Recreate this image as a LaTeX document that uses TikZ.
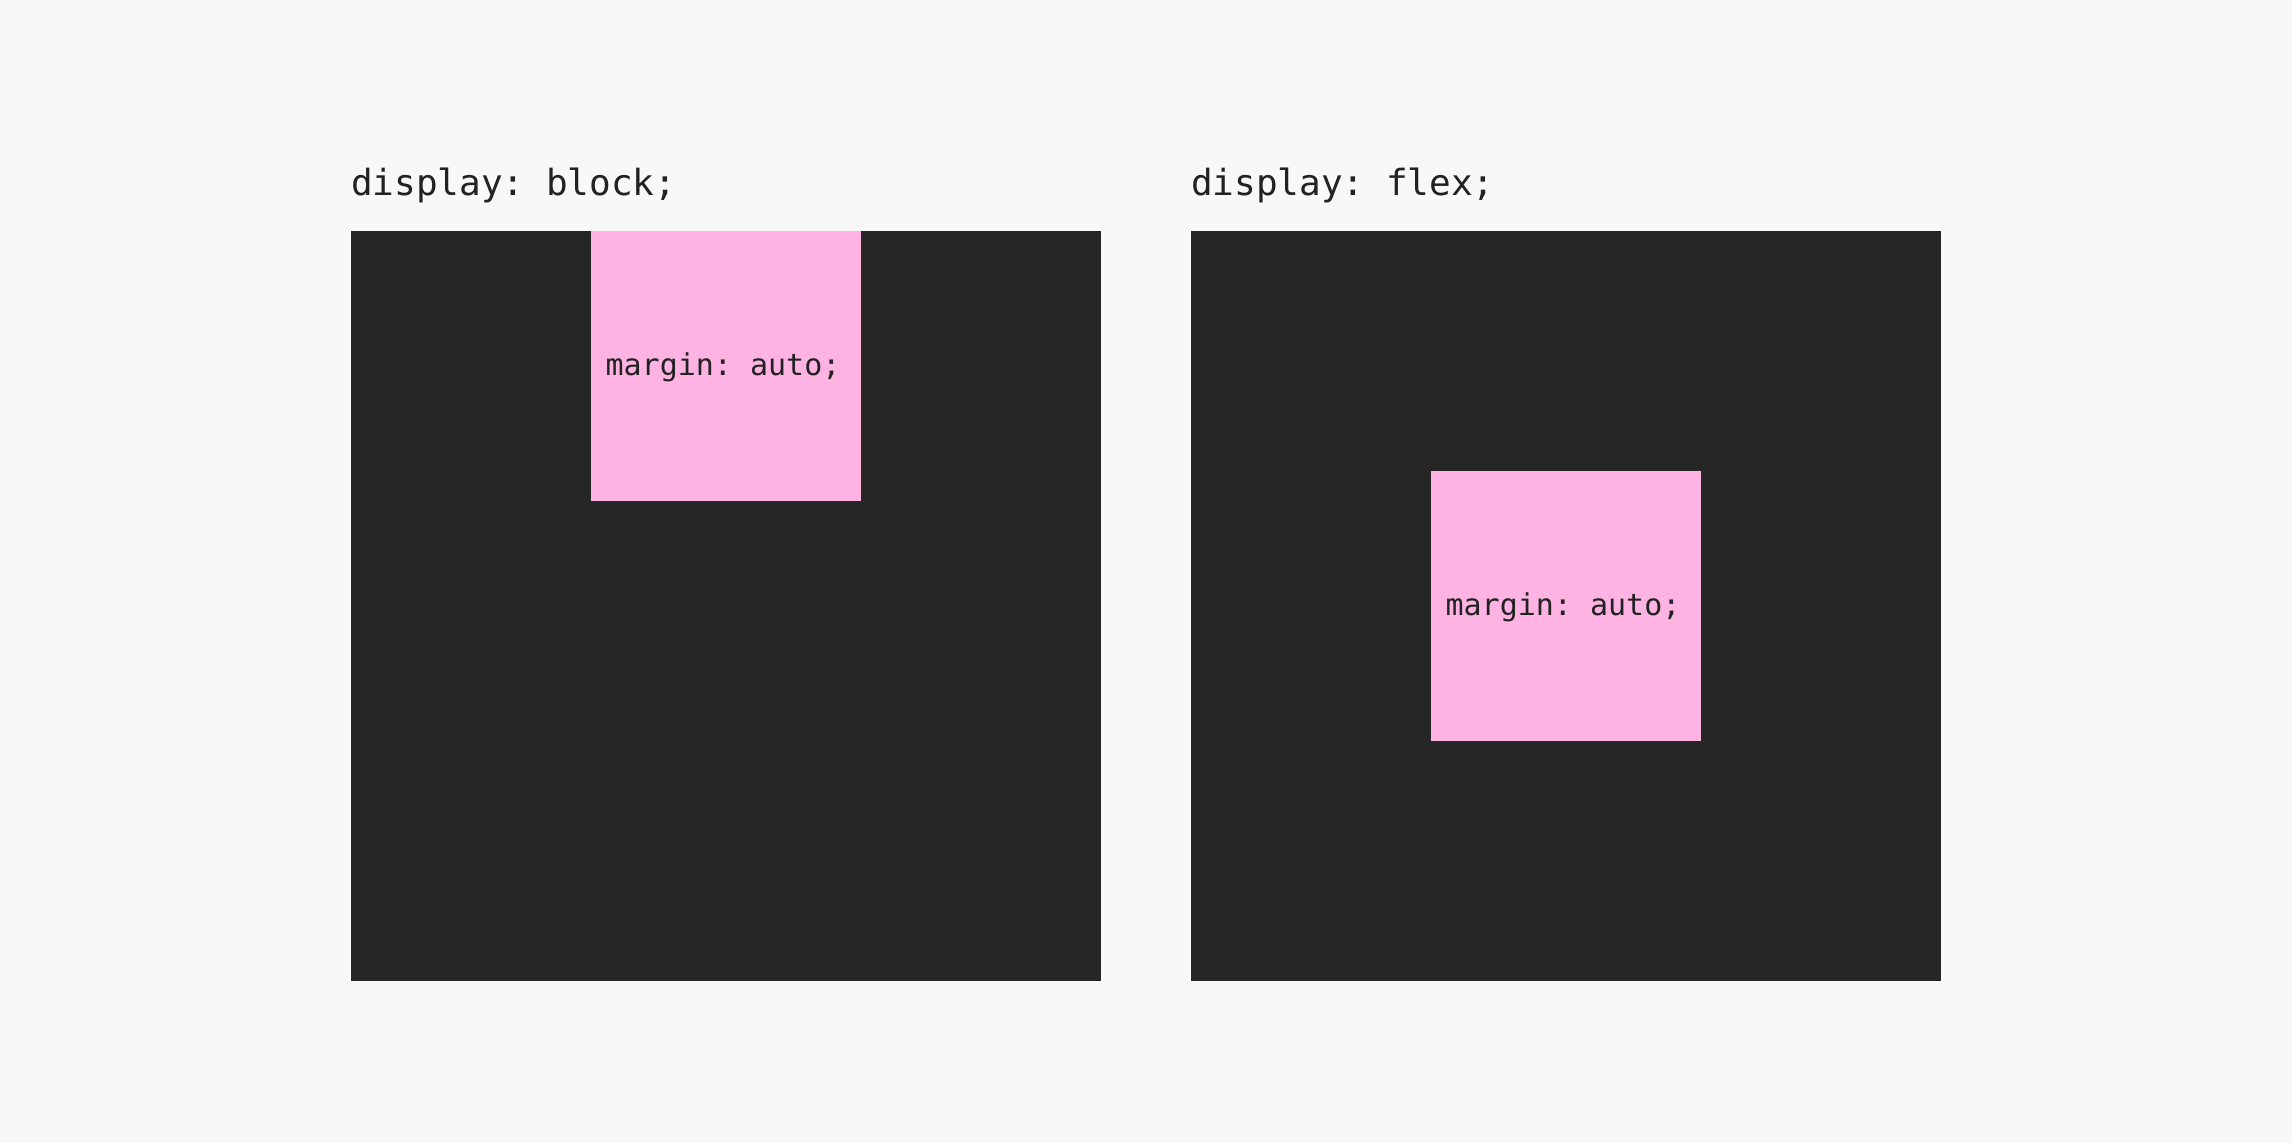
\documentclass[tikz,border=0pt]{standalone}
\usepackage{fontspec}
\setmonofont{DejaVu Sans Mono}
\definecolor{bg}{HTML}{F8F8F8}
\definecolor{dark}{HTML}{262626}
\definecolor{pinkbox}{HTML}{FFB3E3}
\definecolor{ink}{HTML}{222222}
\begin{document}
\begin{tikzpicture}[x=1pt,y=-1pt,
  outer/.style={fill=dark,draw=none},
  inner/.style={fill=pinkbox,draw=none},
  heading/.style={anchor=base west,inner sep=0pt,text=ink,font=\fontsize{36}{36}\selectfont\ttfamily},
  boxlabel/.style={anchor=base,inner sep=0pt,text=ink,font=\fontsize{30}{30}\selectfont\ttfamily}]
\fill[bg] (0,0) rectangle (2292,1143);
\useasboundingbox (0,0) rectangle (2292,1143);
% left
\fill[outer] (351,231) rectangle (1101,981);
\fill[inner] (591,231) rectangle (861,501);
\node[heading] (h1) at (351,195) {display: block;};
\node[boxlabel] (m1) at (723,375) {margin: auto;};
% right
\fill[outer] (1191,231) rectangle (1941,981);
\fill[inner] (1431,471) rectangle (1701,741);
\node[heading] (h2) at (1191,195) {display: flex;};
\node[boxlabel] (m2) at (1563,615) {margin: auto;};
\end{tikzpicture}
\end{document}
